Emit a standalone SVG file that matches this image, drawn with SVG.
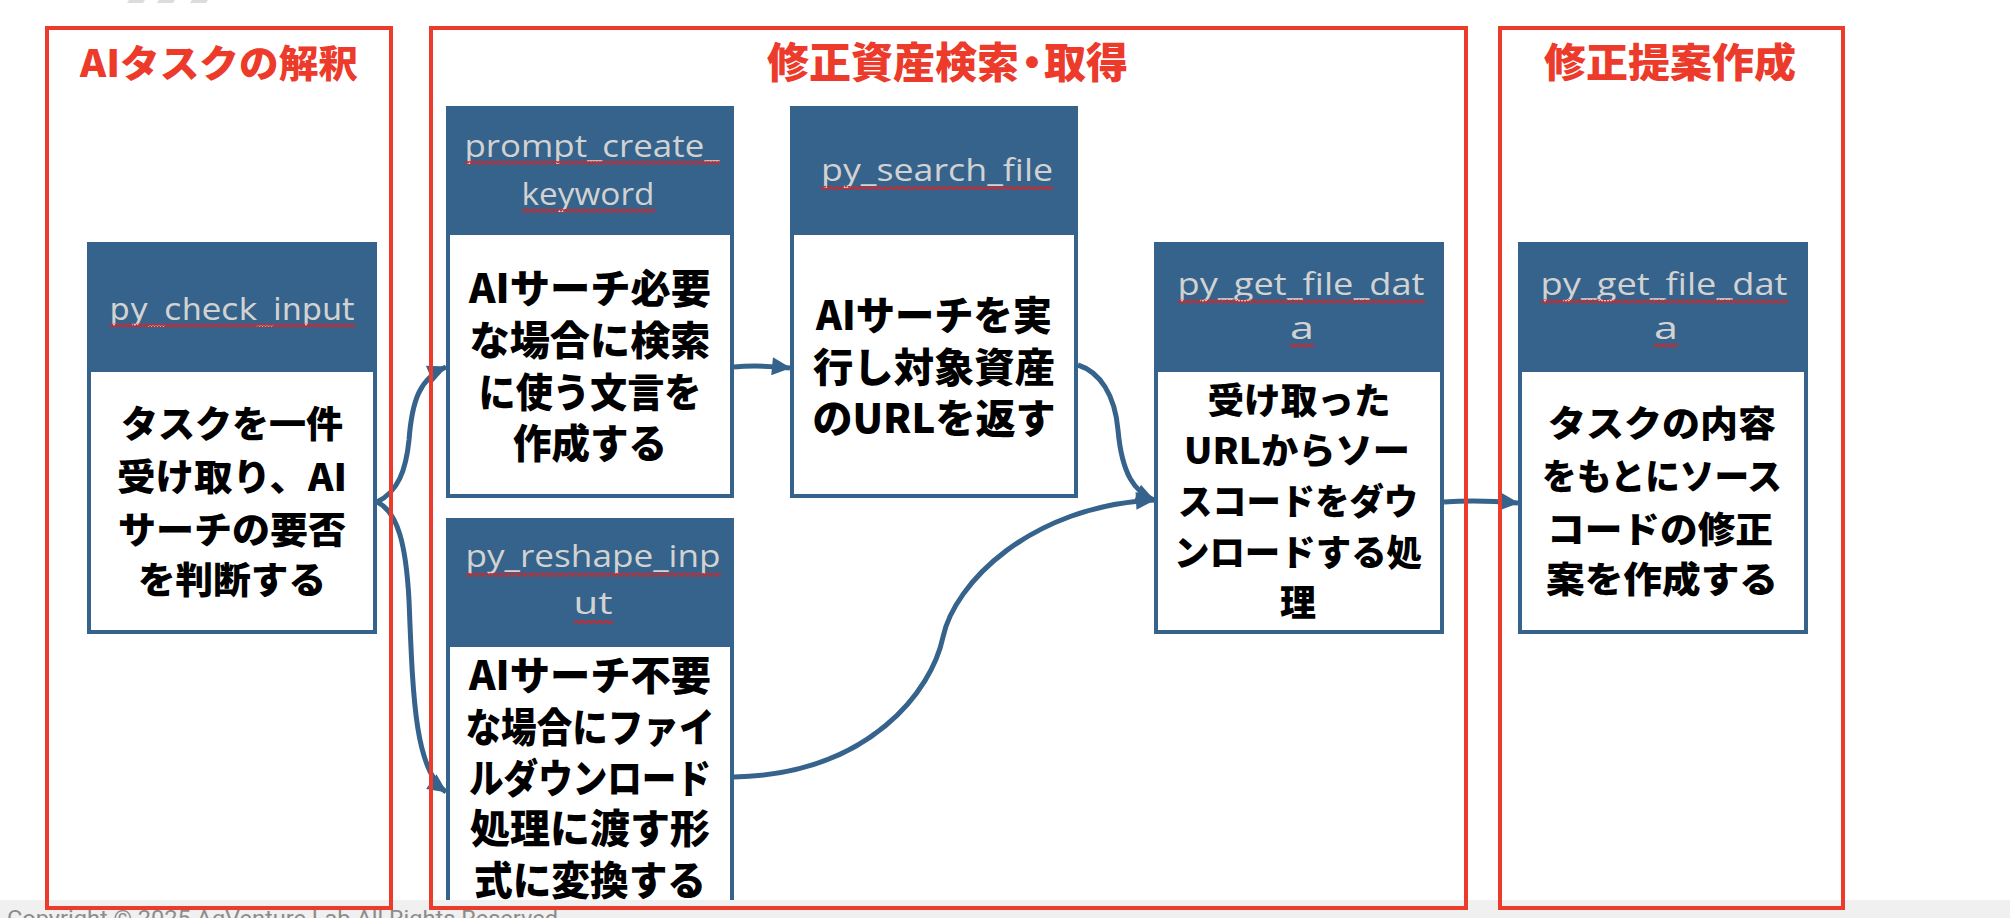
<svg xmlns="http://www.w3.org/2000/svg" width="2010" height="918" viewBox="0 0 2010 918">
<style>
.frame{fill:none;stroke:#ec3a2b;stroke-width:4}
.title{font-family:"Noto Sans CJK JP","Noto Sans",sans-serif;font-weight:900;fill:#ec3a2b;text-anchor:middle}
.hdr{fill:#35638b}
.body{fill:#fff;stroke:#35638b;stroke-width:4}
.ht{font-family:"Open Sans","Noto Sans",sans-serif;font-size:31px;fill:#d2d2d2;text-anchor:middle}
.ht2{font-family:"DejaVu Sans",sans-serif;font-size:30px;fill:#d2d2d2;text-anchor:middle}
.bt{font-family:"Noto Sans CJK JP",sans-serif;font-weight:900;fill:#000;text-anchor:middle}
.b40{font-size:40px}
.b37{font-size:37px}
.b36{font-size:36px}
.wave{fill:url(#wave)}
.conn{fill:none;stroke:#35638b;stroke-width:5;marker-end:url(#arr)}
</style>
<defs>
<pattern id="wave" patternUnits="userSpaceOnUse" width="6" height="4">
<path d="M0,3.2 L1.5,0.8 L3,3.2 L4.5,0.8 L6,3.2" fill="none" stroke="#e02020" stroke-width="1.2"/>
</pattern>
<marker id="arr" markerUnits="userSpaceOnUse" markerWidth="20" markerHeight="18" viewBox="0 0 18 17" refX="17" refY="8.5" orient="auto">
<path d="M0,0 L18,8.5 L0,17 z" fill="#35638b"/>
</marker>
</defs>
<rect x="0" y="0" width="2010" height="918" fill="#fff"/>
<g id="top-marks" fill="#dcdcdc">
<polygon points="129,0 145,0 143,3 127,3"/>
<polygon points="159,0 175,0 173,3 157,3"/>
<polygon points="192,0 208,0 206,3 190,3"/>
</g>

<g id="titles">
<text class="title" x="219" y="77" font-size="38" textLength="278" lengthAdjust="spacingAndGlyphs">AIタスクの解釈</text>
<text class="title" x="767" y="78" font-size="42" style="text-anchor:start">修正資産検索<tspan dx="-8">・</tspan><tspan dx="-9">取得</tspan></text>
<text class="title" x="1670" y="77" font-size="40" textLength="252" lengthAdjust="spacingAndGlyphs">修正提案作成</text>
</g>

<g id="connectors">
<path class="conn" d="M377,502 C398,492 406,470 409,440 C412,400 420,378 446,367"/>
<path class="conn" d="M377,502 C398,512 406,545 409,600 C413,700 415,770 446,792"/>
<path class="conn" d="M734,367 C755,365 770,366 790,368"/>
<path class="conn" d="M1078,365 C1100,372 1115,395 1118,430 C1122,475 1135,492 1154,500"/>
<path class="conn" d="M734,777 C870,774 932,690 943,637 C954,584 1030,506 1154,500"/>
<path class="conn" d="M1444,502 C1470,500 1495,501 1518,503"/>
</g>

<g id="node-py_check_input">
<rect class="body" x="89" y="244" width="286" height="388"/>
<rect class="hdr" x="87" y="242" width="290" height="130" rx="2"/>
<text class="ht2" x="232" y="320" textLength="245" lengthAdjust="spacingAndGlyphs">py_check_input</text>
<rect class="wave" x="110" y="323" width="245" height="4"/>
<text class="bt b37" x="232" y="438" textLength="222" lengthAdjust="spacingAndGlyphs">タスクを一件</text>
<text class="bt b37" x="232" y="491" textLength="230" lengthAdjust="spacingAndGlyphs">受け取り、AI</text>
<text class="bt b37" x="232" y="544" textLength="228" lengthAdjust="spacingAndGlyphs">サーチの要否</text>
<text class="bt b37" x="232" y="594" textLength="188" lengthAdjust="spacingAndGlyphs">を判断する</text>
</g>

<g id="node-prompt_create_keyword">
<rect class="body" x="448" y="108" width="284" height="388"/>
<rect class="hdr" x="446" y="106" width="288" height="129" rx="2"/>
<text class="ht" x="592" y="157" textLength="255" lengthAdjust="spacingAndGlyphs">prompt_create_</text>
<rect class="wave" x="465" y="161" width="255" height="4"/>
<text class="ht" x="588" y="205" textLength="133" lengthAdjust="spacingAndGlyphs">keyword</text>
<rect class="wave" x="522" y="209" width="133" height="4"/>
<text class="bt b40" x="590" y="303" textLength="242" lengthAdjust="spacingAndGlyphs">AIサーチ必要</text>
<text class="bt b40" x="590" y="355" textLength="241" lengthAdjust="spacingAndGlyphs">な場合に検索</text>
<text class="bt b40" x="590" y="407" textLength="223" lengthAdjust="spacingAndGlyphs">に使う文言を</text>
<text class="bt b40" x="590" y="458" textLength="154" lengthAdjust="spacingAndGlyphs">作成する</text>
</g>

<g id="node-py_search_file">
<rect class="body" x="792" y="108" width="284" height="388"/>
<rect class="hdr" x="790" y="106" width="288" height="129" rx="2"/>
<text class="ht" x="937" y="181" textLength="232" lengthAdjust="spacingAndGlyphs">py_search_file</text>
<rect class="wave" x="821" y="186" width="232" height="4"/>
<text class="bt b40" x="934" y="330" textLength="236" lengthAdjust="spacingAndGlyphs">AIサーチを実</text>
<text class="bt b40" x="934" y="382" textLength="242" lengthAdjust="spacingAndGlyphs">行し対象資産</text>
<text class="bt b40" x="934" y="433" textLength="243" lengthAdjust="spacingAndGlyphs">のURLを返す</text>
</g>

<g id="node-py_reshape_input">
<rect class="body" x="448" y="520" width="284" height="420"/>
<rect class="hdr" x="446" y="518" width="288" height="129" rx="2"/>
<text class="ht" x="593" y="567" textLength="255" lengthAdjust="spacingAndGlyphs">py_reshape_inp</text>
<rect class="wave" x="466" y="573" width="255" height="4"/>
<text class="ht" x="593" y="614" textLength="39" lengthAdjust="spacingAndGlyphs">ut</text>
<rect class="wave" x="574" y="620" width="39" height="4"/>
<text class="bt b40" x="590" y="690" textLength="242" lengthAdjust="spacingAndGlyphs">AIサーチ不要</text>
<text class="bt b40" x="590" y="742" textLength="249" lengthAdjust="spacingAndGlyphs">な場合にファイ</text>
<text class="bt b40" x="590" y="793" textLength="242" lengthAdjust="spacingAndGlyphs">ルダウンロード</text>
<text class="bt b40" x="590" y="843" textLength="240" lengthAdjust="spacingAndGlyphs">処理に渡す形</text>
<text class="bt b40" x="590" y="895" textLength="232" lengthAdjust="spacingAndGlyphs">式に変換する</text>
</g>

<g id="node-py_get_file_data-1">
<rect class="body" x="1156" y="244" width="286" height="388"/>
<rect class="hdr" x="1154" y="242" width="290" height="130" rx="2"/>
<text class="ht" x="1301" y="295" textLength="247" lengthAdjust="spacingAndGlyphs">py_get_file_dat</text>
<rect class="wave" x="1178" y="299" width="247" height="4"/>
<text class="ht" x="1302" y="339" textLength="24" lengthAdjust="spacingAndGlyphs">a</text>
<rect class="wave" x="1290" y="343" width="24" height="4"/>
<text class="bt b36" x="1299" y="414" textLength="183" lengthAdjust="spacingAndGlyphs">受け取った</text>
<text class="bt b36" x="1297" y="464" textLength="226" lengthAdjust="spacingAndGlyphs">URLからソー</text>
<text class="bt b36" x="1298" y="515" textLength="240" lengthAdjust="spacingAndGlyphs">スコードをダウ</text>
<text class="bt b36" x="1298" y="566" textLength="248" lengthAdjust="spacingAndGlyphs">ンロードする処</text>
<text class="bt b36" x="1298" y="616">理</text>
</g>

<g id="node-py_get_file_data-2">
<rect class="body" x="1520" y="244" width="286" height="388"/>
<rect class="hdr" x="1518" y="242" width="290" height="130" rx="2"/>
<text class="ht" x="1664" y="295" textLength="247" lengthAdjust="spacingAndGlyphs">py_get_file_dat</text>
<rect class="wave" x="1541" y="299" width="247" height="4"/>
<text class="ht" x="1666" y="339" textLength="24" lengthAdjust="spacingAndGlyphs">a</text>
<rect class="wave" x="1654" y="343" width="24" height="4"/>
<text class="bt b36" x="1662" y="437" textLength="228" lengthAdjust="spacingAndGlyphs">タスクの内容</text>
<text class="bt b36" x="1662" y="490" textLength="240" lengthAdjust="spacingAndGlyphs">をもとにソース</text>
<text class="bt b36" x="1660" y="543" textLength="226" lengthAdjust="spacingAndGlyphs">コードの修正</text>
<text class="bt b36" x="1662" y="593" textLength="232" lengthAdjust="spacingAndGlyphs">案を作成する</text>
</g>

<g id="footer">
<rect x="0" y="900" width="2010" height="18" fill="#f0f0f0"/>
<text x="7" y="926" font-family="Roboto,'Liberation Sans',sans-serif" font-size="22" fill="#8c8c8c" textLength="551" lengthAdjust="spacingAndGlyphs">Copyright © 2025 AgVenture Lab All Rights Reserved</text>
</g>

<g id="lane-frames">
<rect class="frame" x="47" y="28" width="344" height="880"/>
<rect class="frame" x="431" y="28" width="1035" height="880"/>
<rect class="frame" x="1500" y="28" width="343" height="880"/>
</g>
</svg>
